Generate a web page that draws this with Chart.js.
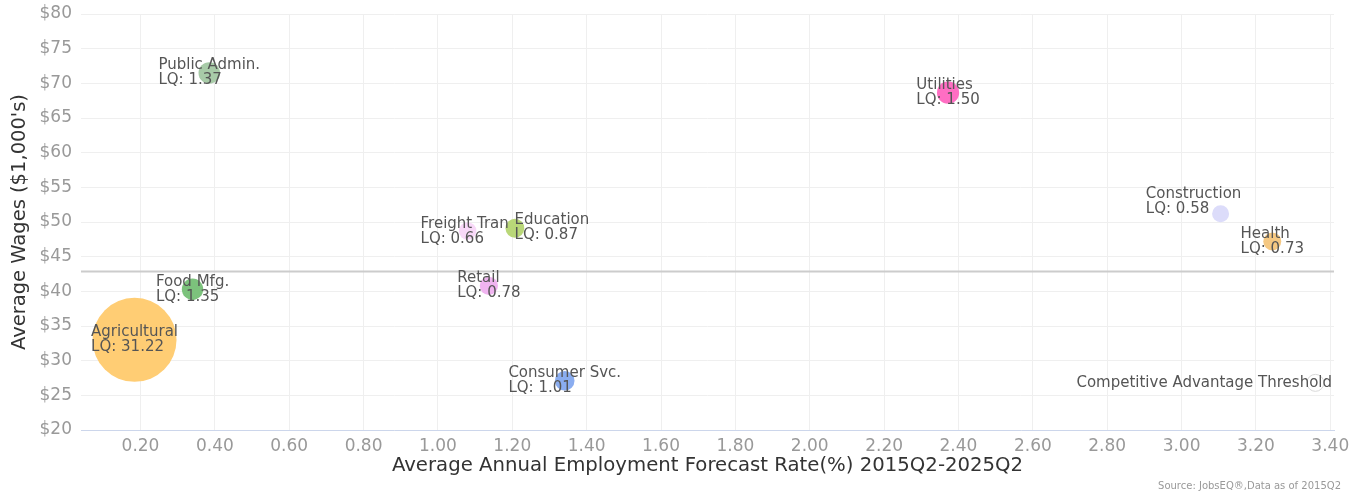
<!DOCTYPE html>
<html><head><meta charset="utf-8">
<script src="https://cdn.jsdelivr.net/npm/chart.js@4.4.1/dist/chart.umd.min.js"></script>
<style>html,body{margin:0;padding:0;background:#fff}#wrap{width:1352px;height:493px;position:relative}</style>
</head><body><div id="wrap"><canvas id="c"></canvas></div>
<script>
// ---- data ----
const industries = ['Agricultural','Food Mfg.','Public Admin.','Freight Tran','Education','Retail','Consumer Svc.','Utilities','Construction','Health'];
const forecastRate = [0.184, 0.34, 0.385, 1.08, 1.207, 1.137, 1.341, 2.372, 3.105, 3.244];
const avgWages = [33.0, 40.3, 71.5, 48.7, 49.1, 40.8, 27.1, 68.65, 51.2, 47.2];
const locationQuotient = [31.22, 1.35, 1.37, 0.66, 0.87, 0.78, 1.01, 1.50, 0.58, 0.73];
const thresholdWage = 43;
const thresholdLabel = ['Competitive Advantage Threshold'];
const thresholdX = [3.36];
const thresholdY = [26.8];
const xTickValues = [0.2,0.4,0.6,0.8,1.0,1.2,1.4,1.6,1.8,2.0,2.2,2.4,2.6,2.8,3.0,3.2,3.4];
const yTickValues = [20,25,30,35,40,45,50,55,60,65,70,75,80];
const sourceNote = 'Source: JobsEQ\u00AE,Data as of 2015Q2';

// ---- style ----
const colors = ['#FFCD74','#7CC27C','#A8CBA8','#F8D8F8','#B9D778','#F0B4F0','#8AADF0','#FF6EC3','#DCDCFA','#F5C882'];
const FONT = "'DejaVu Sans', sans-serif";

// Highcharts-like bubble sizing by area
const zMin = Math.min(...locationQuotient), zMax = Math.max(...locationQuotient);
const minD = 17, maxD = 84;
function radiusFor(z){
  const pos = (z - zMin) / (zMax - zMin);
  return Math.sqrt(minD*minD + pos*(maxD*maxD - minD*minD)) / 2;
}

const bubbleLabels = {
  id: 'bubbleLabels',
  afterDatasetsDraw(chart, args, opts){
    const ctx = chart.ctx, area = chart.chartArea;
    ctx.save();
    ctx.font = opts.font; ctx.fillStyle = opts.color;
    ctx.textBaseline = 'middle'; ctx.textAlign = 'left';
    chart.data.datasets.forEach((ds, di) => {
      const meta = chart.getDatasetMeta(di);
      meta.data.forEach((el, i) => {
        const lines = ds.labelLines[i];
        const w = Math.max(...lines.map(l => ctx.measureText(l).width));
        const nudge = (opts.nudge && opts.nudge[lines[0]]) || [0,0];
        let left = el.x - w/2 + nudge[0];
        if (left + w > area.right) left = area.right - w - 2;
        if (left < area.left) left = area.left;
        const h = lines.length * opts.lineHeight;
        const top = el.y - h/2 + nudge[1];
        lines.forEach((l, k) => ctx.fillText(l, left, top + opts.lineHeight*(k + 0.5)));
      });
    });
    ctx.restore();
  }
};

const thresholdLine = {
  id: 'thresholdLine',
  beforeDatasetsDraw(chart){
    const ctx = chart.ctx, area = chart.chartArea;
    const y = Math.round(chart.scales.y.getPixelForValue(thresholdWage)) + 0.5;
    ctx.save();
    ctx.strokeStyle = '#cccccc'; ctx.lineWidth = 2;
    ctx.beginPath(); ctx.moveTo(area.left, y); ctx.lineTo(area.right, y); ctx.stroke();
    ctx.restore();
  }
};

const sourcePlugin = {
  id: 'sourceNote',
  afterDraw(chart){
    const ctx = chart.ctx;
    ctx.save();
    ctx.font = "10px " + FONT; ctx.fillStyle = '#999';
    ctx.textAlign = 'right'; ctx.textBaseline = 'middle';
    ctx.fillText(sourceNote, 1341, 486);
    ctx.restore();
  }
};

new Chart(document.getElementById('c'), {
  type: 'bubble',
  data: {
    datasets: [
      {
        data: industries.map((n, i) => ({x: forecastRate[i], y: avgWages[i], r: radiusFor(locationQuotient[i])})),
        backgroundColor: colors,
        borderWidth: 0,
        labelLines: industries.map((n, i) => [n, 'LQ: ' + locationQuotient[i].toFixed(2)])
      },
      {
        data: thresholdX.map((x, i) => ({x, y: thresholdY[i], r: minD/2})),
        backgroundColor: '#ffffff',
        borderColor: '#d8d8d8',
        borderWidth: 1,
        labelLines: thresholdX.map((x, i) => [thresholdLabel[i]])
      }
    ]
  },
  options: {
    responsive: true, maintainAspectRatio: false, animation: false, events: [],
    layout: {autoPadding: false, padding: {top: 14, left: 0, right: 18, bottom: 0}},
    plugins: {
      legend: {display: false}, tooltip: {enabled: false},
      bubbleLabels: {
        font: "15px " + FONT, color: '#555555', lineHeight: 15,
        nudge: {'Construction': [-27, -12], 'Education': [37, -1], 'Freight Tran': [-3, 1]}
      }
    },
    scales: {
      x: {
        type: 'linear', min: 0.04, max: 3.41,
        afterBuildTicks: s => { s.ticks = xTickValues.map(v => ({value: v})); },
        afterFit: s => { s.height = 63; s.paddingLeft = 0; s.paddingRight = 0; },
        grid: {color: '#efefef', drawTicks: false},
        border: {color: '#ccd6eb', width: 1},
        ticks: {color: '#999', font: {family: FONT, size: 17}, padding: 6, maxRotation: 0, autoSkip: false, callback: v => Number(v).toFixed(2)},
        title: {display: true, text: 'Average Annual Employment Forecast Rate(%) 2015Q2-2025Q2', color: '#333', font: {family: FONT, size: 19.7}, padding: {top: 0, bottom: 15}}
      },
      y: {
        min: 20, max: 80,
        afterBuildTicks: s => { s.ticks = yTickValues.map(v => ({value: v})); },
        afterFit: s => { s.width = 81; s.paddingTop = 0; s.paddingBottom = 0; },
        grid: {color: '#efefef', drawTicks: false},
        border: {display: false},
        ticks: {color: '#999', font: {family: FONT, size: 17}, padding: 9, callback: v => '$' + v},
        title: {display: true, text: "Average Wages ($1,000's)", color: '#333', font: {family: FONT, size: 19.5}, padding: {top: 8, bottom: 0}}
      }
    }
  },
  plugins: [thresholdLine, bubbleLabels, sourcePlugin]
});
</script>
</body></html>
